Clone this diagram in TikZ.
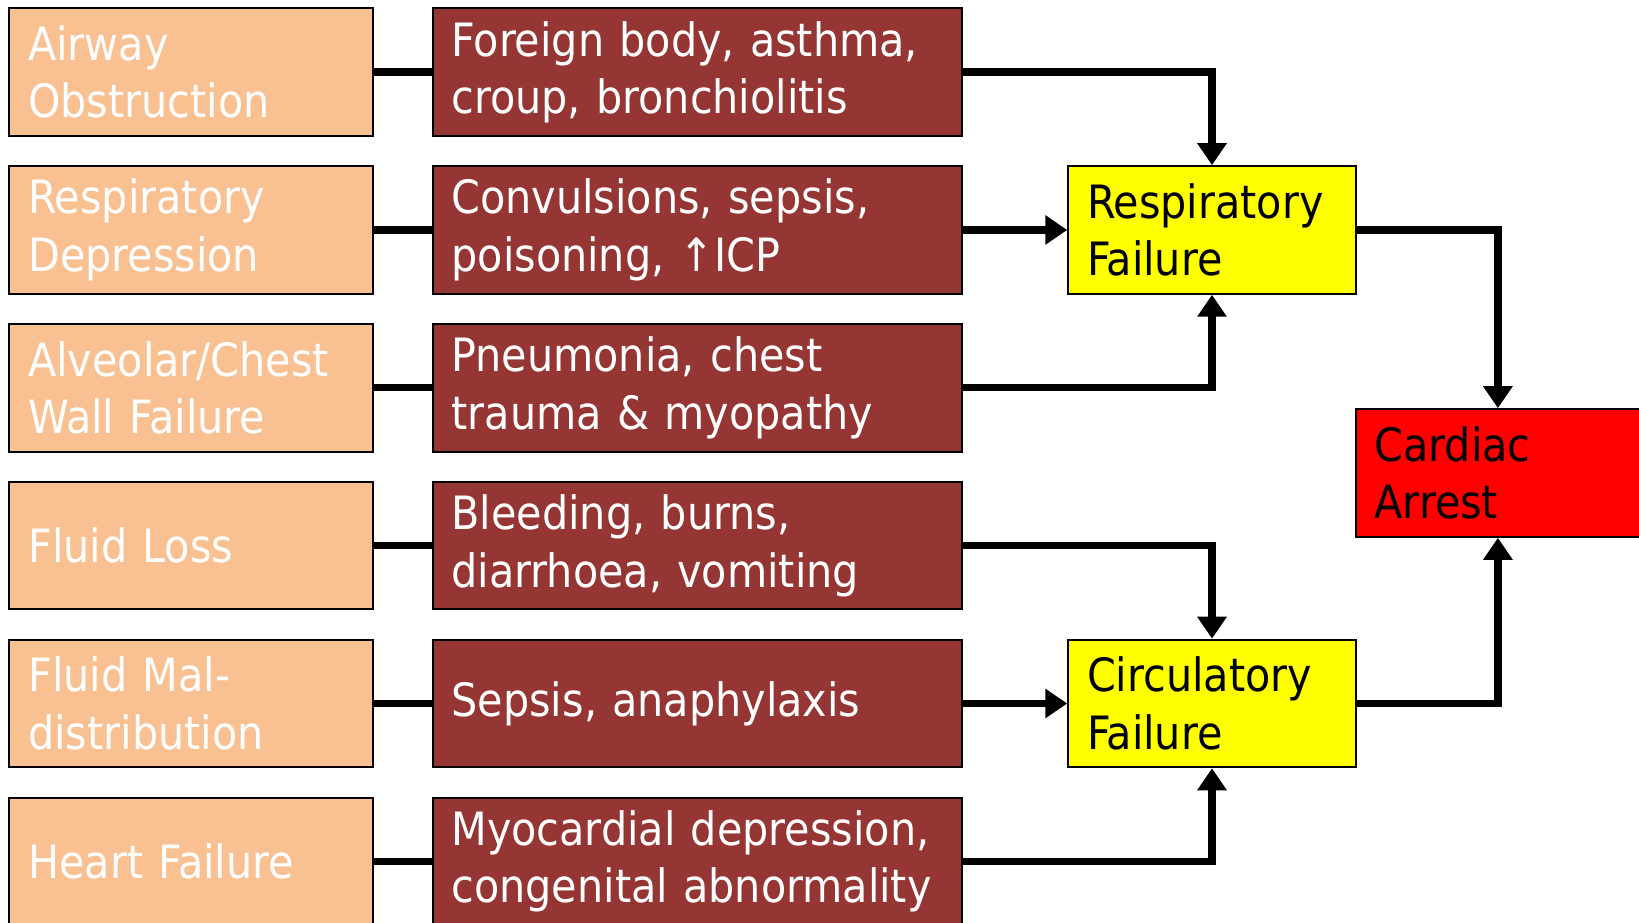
\documentclass[tikz,border=0pt]{standalone}
\usepackage{fontspec}
\setmainfont{DejaVu Sans Condensed}
\usetikzlibrary{arrows.meta}

\definecolor{causepeach}{RGB}{249,192,145}
\definecolor{detailred}{RGB}{149,54,52}
\definecolor{failyellow}{RGB}{255,255,0}
\definecolor{arrestred}{RGB}{255,0,0}

\begin{document}
\begin{tikzpicture}[every node/.style={draw=black, line width=0.04cm, rectangle, align=left, inner xsep=0.36cm, inner ysep=0pt, minimum height=2.44cm, font=\fontsize{25}{31.3}\selectfont},
    cause/.style={fill=causepeach, text=white, text width=6.24cm},
    detail/.style={fill=detailred, text=white, text width=9.4cm},
    failure/.style={fill=failyellow, text=black, text width=4.78cm},
    arrest/.style={fill=arrestred, text=black, text width=6.28cm},
    link/.style={line width=0.14cm},
    flow/.style={line width=0.14cm, -{Triangle[width=0.54cm,length=0.42cm]}}]
            \useasboundingbox (0,0) rectangle (31.36,-17.66);

            % Nodes
            \node[cause] (airway) at (3.66,-1.38) {Airway\\Obstruction};
            \node[cause] (respdep) at (3.66,-4.40) {Respiratory\\Depression};
            \node[cause] (alveolar) at (3.66,-7.42) {Alveolar/Chest\\Wall Failure};
            \node[cause] (fluidloss) at (3.66,-10.44) {Fluid Loss};
            \node[cause] (maldist) at (3.66,-13.46) {Fluid Mal-\\distribution};
            \node[cause] (heart) at (3.66,-16.48) {Heart Failure};

            \node[detail] (foreign) at (13.34,-1.38) {Foreign body, asthma,\\croup, bronchiolitis};
            \node[detail] (convulsions) at (13.34,-4.40) {Convulsions, sepsis,\\poisoning, ↑ICP};
            \node[detail] (pneumonia) at (13.34,-7.42) {Pneumonia, chest\\trauma \& myopathy};
            \node[detail] (bleeding) at (13.34,-10.44) {Bleeding, burns,\\diarrhoea, vomiting};
            \node[detail] (anaphylaxis) at (13.34,-13.46) {Sepsis, anaphylaxis};
            \node[detail] (myocardial) at (13.34,-16.48) {Myocardial depression,\\congenital abnormality};

            \node[failure] (resp) at (23.19,-4.40) {Respiratory\\Failure};
            \node[failure] (circ) at (23.19,-13.46) {Circulatory\\Failure};
            \node[arrest, minimum width=7cm] (cardiac) at (29.44,-9.05) {Cardiac\\Arrest};

            % Edges
            \draw[link] (airway) -- (foreign);
            \draw[link] (respdep) -- (convulsions);
            \draw[link] (alveolar) -- (pneumonia);
            \draw[link] (fluidloss) -- (bleeding);
            \draw[link] (maldist) -- (anaphylaxis);
            \draw[link] (heart) -- (myocardial);

            \draw[flow] (foreign) -| (resp);
            \draw[flow] (convulsions) -- (resp);
            \draw[flow] (pneumonia) -| (resp);
            \draw[flow] (bleeding) -| (circ);
            \draw[flow] (anaphylaxis) -- (circ);
            \draw[flow] (myocardial) -| (circ);

            \draw[flow] (resp) -| ([xshift=2.74cm]cardiac.north west);
            \draw[flow] (circ) -| ([xshift=2.74cm]cardiac.south west);
          \end{tikzpicture}
\end{document}
